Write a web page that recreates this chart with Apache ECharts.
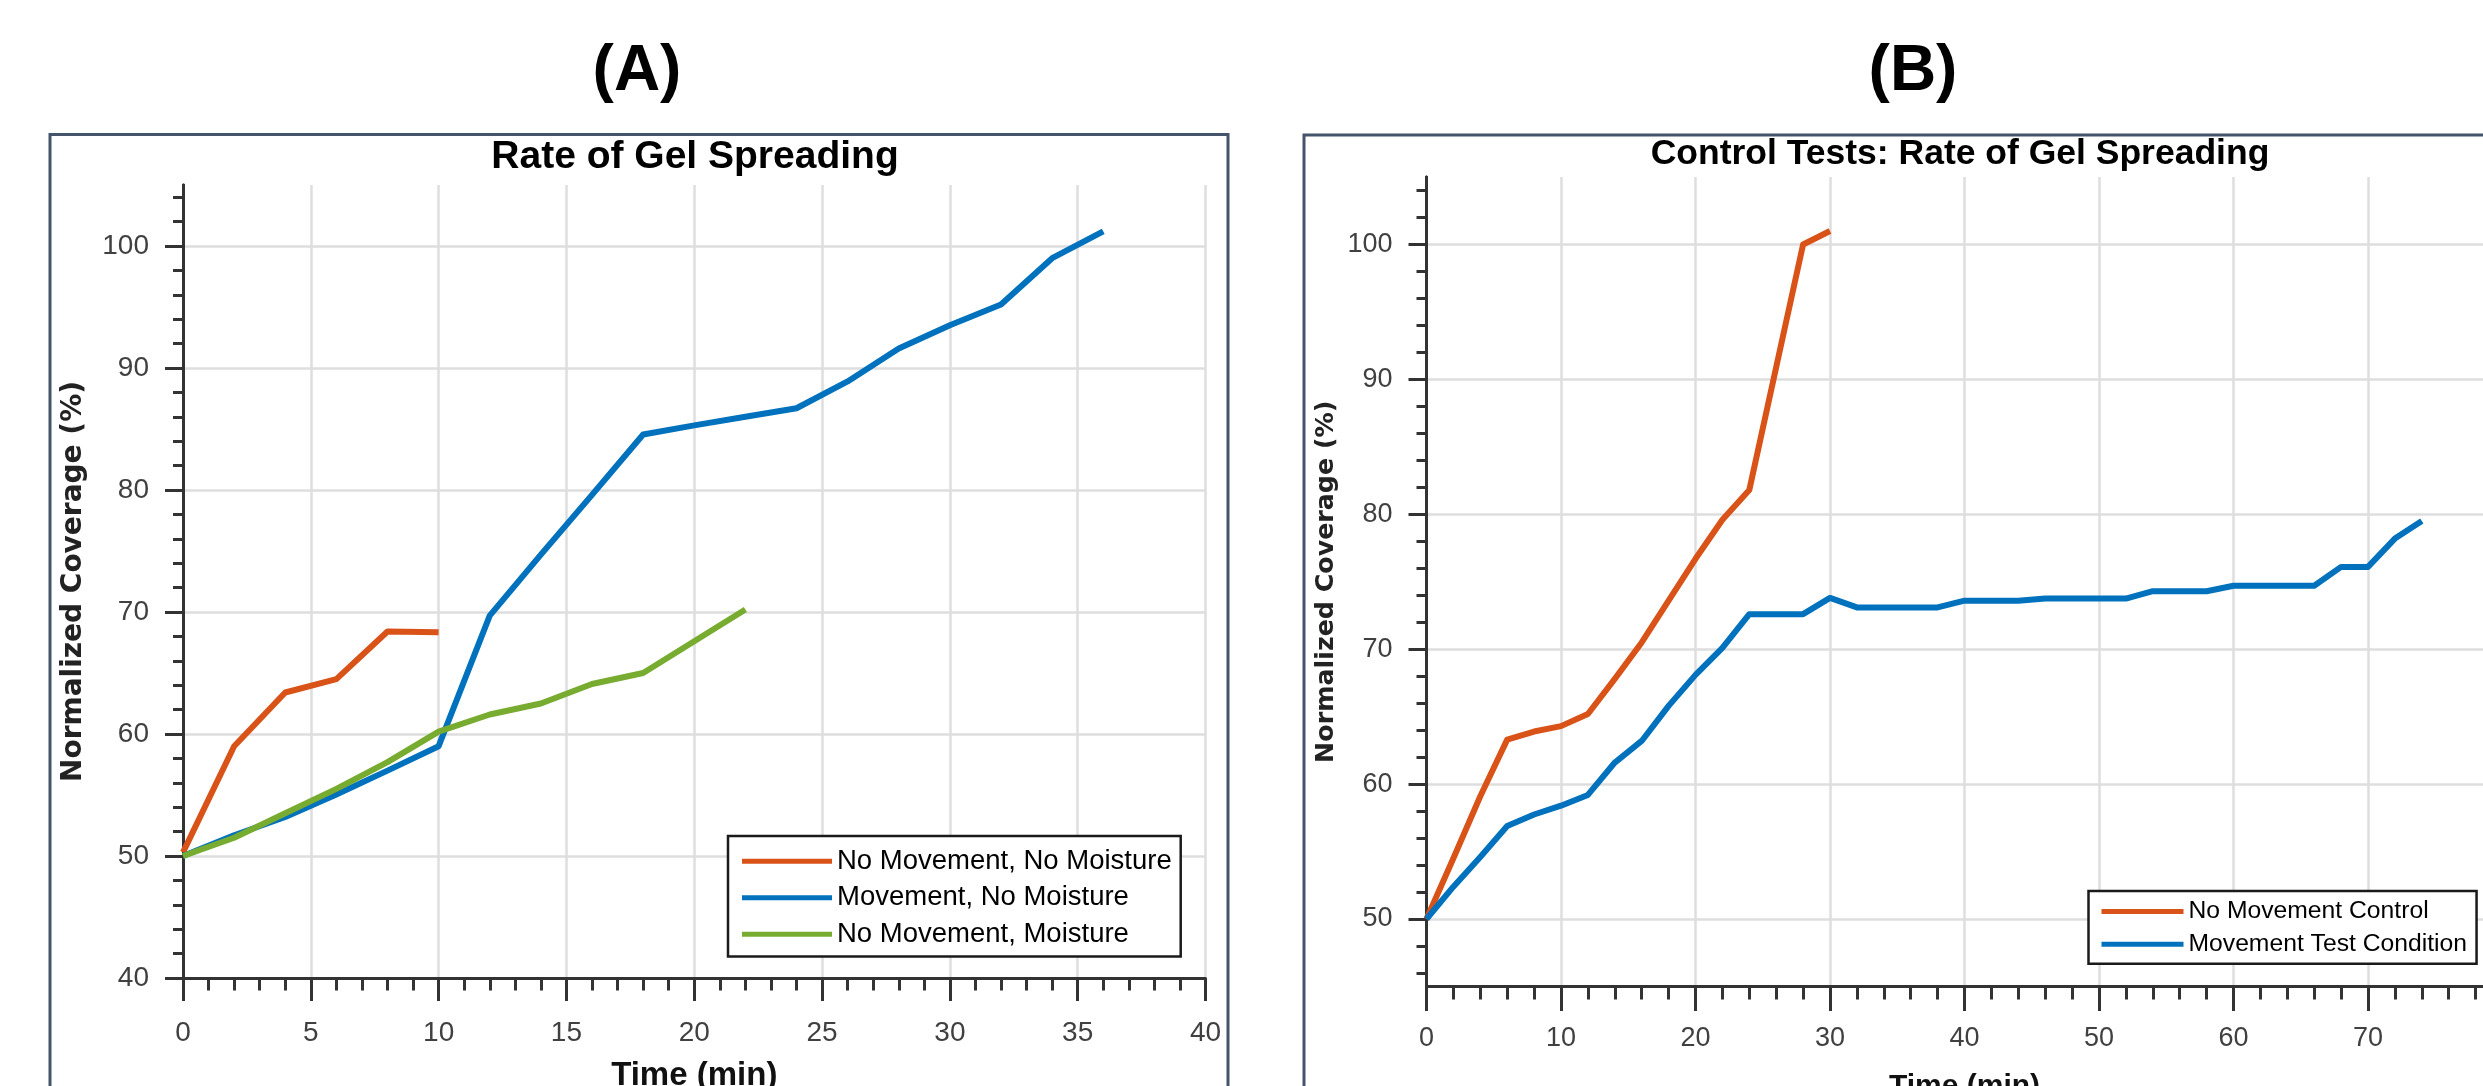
<!DOCTYPE html>
<html>
<head>
<meta charset="utf-8">
<title>Rate of Gel Spreading</title>
<script src="https://cdn.jsdelivr.net/npm/echarts@6/dist/echarts.min.js"></script>
<style>
  html, body { margin: 0; padding: 0; background: #fff; }
  #chart { width: 2483px; height: 1086px; }
</style>
</head>
<body>
<div id="chart"></div>
<script>
// ---- panel A data (time in min, normalized coverage in %)
const timeA_noMoveNoMoist = [0, 2, 4, 6, 8, 10]
const covA_noMoveNoMoist = [50.3, 59.0, 63.4, 64.5, 68.4, 68.35]

const timeA_moveNoMoist = [0, 2, 4, 6, 8, 10, 12, 14, 16, 18, 20, 22, 24, 26, 28, 30, 32, 34, 36]
const covA_moveNoMoist = [50.0, 51.7, 53.2, 55.05, 57.0, 59.0, 69.7, 74.7, 79.6, 84.55, 85.3, 86.0, 86.7, 88.9, 91.6, 93.5, 95.2, 99.0, 101.2]

const timeA_noMoveMoist = [0, 2, 4, 6, 8, 10, 12, 14, 16, 18, 20, 22]
const covA_noMoveMoist = [50.0, 51.5, 53.5, 55.5, 57.7, 60.2, 61.6, 62.5, 64.1, 65.0, 67.6, 70.2]

// ---- panel B data
const timeB_control = [0, 2, 4, 6, 8, 10, 12, 14, 16, 18, 20, 22, 24, 26, 28, 30]
const covB_control = [50.0, 54.5, 59.1, 63.3, 63.9, 64.3, 65.2, 67.8, 70.5, 73.6, 76.7, 79.6, 81.8, 90.9, 100.0, 101.0]

const timeB_test = [0, 2, 4, 6, 8, 10, 12, 14, 16, 18, 20, 22, 24, 26, 28, 30, 32, 34, 36, 38,
  40, 42, 44, 46, 48, 50, 52, 54, 56, 58, 60, 62, 64, 66, 68, 70, 72, 74]
const covB_test = [50.0, 52.4, 54.6, 56.9, 57.75, 58.4, 59.2, 61.6, 63.2, 65.8, 68.1, 70.1, 72.6, 72.6, 72.6, 73.8, 73.1, 73.1, 73.1, 73.1,
  73.6, 73.6, 73.6, 73.75, 73.75, 73.75, 73.75, 74.3, 74.3, 74.3, 74.7, 74.7, 74.7, 74.7, 76.1, 76.1, 78.2, 79.5]

// ---- tick values
const yTicksA = [40, 50, 60, 70, 80, 90, 100]
const yMinorA = [42, 44, 46, 48, 52, 54, 56, 58, 62, 64, 66, 68, 72, 74, 76, 78, 82, 84, 86, 88, 92, 94, 96, 98, 102, 104]
const yTicksB = [50, 60, 70, 80, 90, 100]
const yMinorB = [46, 48, 52, 54, 56, 58, 62, 64, 66, 68, 72, 74, 76, 78, 82, 84, 86, 88, 92, 94, 96, 98, 102, 104]

const namesA = ['No Movement, No Moisture', 'Movement, No Moisture', 'No Movement, Moisture']
const namesB = ['No Movement Control', 'Movement Test Condition']

const ORANGE = '#D95319'
const BLUE = '#0072BD'
const GREEN = '#77AC30'
const AXIS = '#333333'
const GRIDC = '#dedede'
const LABELC = '#404040'
const FONT = '"Liberation Sans", Arial, sans-serif'
const WIDE = '"DejaVu Sans", Verdana, sans-serif'

function pairs(xs, ys) {
  return xs.map((x, i) => [x, ys[i]])
}

function xAxisOf(gridIndex, max, interval, o) {
  return {
    gridIndex: gridIndex,
    type: 'value',
    min: 0,
    max: max,
    interval: interval,
    axisLine: { show: true, onZero: false, lineStyle: { color: AXIS, width: 3 } },
    axisTick: { show: true, length: o.tick, lineStyle: { color: AXIS, width: 3 } },
    minorTick: { show: true, splitNumber: 5, length: o.minor, lineStyle: { color: AXIS, width: 3 } },
    axisLabel: { fontSize: o.fs, color: LABELC, margin: o.margin, fontFamily: FONT },
    splitLine: { show: true, lineStyle: { color: GRIDC, width: 2.5 } },
    name: 'Time (min)',
    nameLocation: 'middle',
    nameGap: o.nameGap,
    nameTextStyle: { fontSize: o.nameFs, fontWeight: 'bold', color: '#111', fontFamily: FONT }
  }
}

function yAxisOf(gridIndex, min, ticks, o) {
  return {
    gridIndex: gridIndex,
    type: 'value',
    position: 'left',
    min: min,
    max: 105,
    axisLine: { show: true, onZero: false, lineStyle: { color: AXIS, width: 3 } },
    axisTick: { show: true, length: 18, customValues: ticks, lineStyle: { color: AXIS, width: 3 } },
    axisLabel: { customValues: ticks, fontSize: o.fs, color: LABELC, margin: o.margin, fontFamily: FONT },
    splitLine: { show: true, lineStyle: { color: GRIDC, width: 2.5 } },
    name: 'Normalized Coverage (%)',
    nameLocation: 'middle',
    nameRotate: 90,
    nameGap: o.nameGap,
    nameTextStyle: { fontSize: o.nameFs, fontWeight: 'bold', color: '#222', fontFamily: WIDE }
  }
}

// second axis on the same grid, only for the small ticks between the labels
function yMinorOf(gridIndex, min, ticks) {
  return {
    gridIndex: gridIndex,
    type: 'value',
    position: 'left',
    min: min,
    max: 105,
    axisLine: { show: true, onZero: false, lineStyle: { color: AXIS, width: 3 } },
    axisTick: { show: true, length: 10, customValues: ticks, lineStyle: { color: AXIS, width: 3 } },
    axisLabel: { show: false },
    splitLine: { show: false }
  }
}

function lineSeries(name, color, xAxisIndex, yAxisIndex, data) {
  return {
    name: name,
    type: 'line',
    xAxisIndex: xAxisIndex,
    yAxisIndex: yAxisIndex,
    data: data,
    color: color,
    symbol: 'none',
    lineStyle: { width: 6, join: 'round' },
    emphasis: { disabled: true }
  }
}

function text(x, y, str, size) {
  return {
    type: 'text',
    x: x,
    y: y,
    style: {
      text: str,
      fill: '#000',
      align: 'center',
      verticalAlign: 'middle',
      font: 'bold ' + size + 'px ' + FONT
    }
  }
}

const chart = echarts.init(document.getElementById('chart'))

const option = {
  backgroundColor: '#fff',
  animation: false,
  grid: [
    { left: 183, top: 185, width: 1022.5, height: 793, outerBoundsMode: 'none', containLabel: false },
    { left: 1426.5, top: 177, width: 1076, height: 809.5, outerBoundsMode: 'none', containLabel: false }
  ],
  xAxis: [
    xAxisOf(0, 40, 5, { tick: 23, minor: 12.5, fs: 28, margin: 41, nameGap: 81, nameFs: 33 }),
    xAxisOf(1, 80, 10, { tick: 24.5, minor: 13, fs: 27, margin: 38.5, nameGap: 85, nameFs: 30 })
  ],
  yAxis: [
    yAxisOf(0, 40, yTicksA, { fs: 28, margin: 34, nameGap: 95, nameFs: 28 }),
    yMinorOf(0, 40, yMinorA),
    yAxisOf(1, 45, yTicksB, { fs: 27, margin: 34, nameGap: 88, nameFs: 25.3 }),
    yMinorOf(1, 45, yMinorB)
  ],
  legend: [
    {
      data: namesA,
      orient: 'vertical',
      left: 728,
      top: 836,
      padding: [11.25, 9, 8.25, 14],
      itemWidth: 90,
      itemHeight: 5,
      itemGap: 8.5,
      icon: 'rect',
      selectedMode: false,
      backgroundColor: '#fff',
      borderColor: '#1a1a1a',
      borderWidth: 2.5,
      borderRadius: 0,
      textStyle: { fontSize: 27.5, color: '#000', fontFamily: FONT }
    },
    {
      data: namesB,
      orient: 'vertical',
      left: 2088.5,
      top: 891,
      padding: [8, 9.5, 7, 13],
      itemWidth: 82,
      itemHeight: 5,
      itemGap: 7.8,
      icon: 'rect',
      selectedMode: false,
      backgroundColor: '#fff',
      borderColor: '#1a1a1a',
      borderWidth: 2.5,
      borderRadius: 0,
      textStyle: { fontSize: 24.7, color: '#000', fontFamily: FONT }
    }
  ],
  series: [
    lineSeries(namesA[0], ORANGE, 0, 0, pairs(timeA_noMoveNoMoist, covA_noMoveNoMoist)),
    lineSeries(namesA[1], BLUE, 0, 0, pairs(timeA_moveNoMoist, covA_moveNoMoist)),
    lineSeries(namesA[2], GREEN, 0, 0, pairs(timeA_noMoveMoist, covA_noMoveMoist)),
    lineSeries(namesB[0], ORANGE, 1, 2, pairs(timeB_control, covB_control)),
    lineSeries(namesB[1], BLUE, 1, 2, pairs(timeB_test, covB_test))
  ],
  graphic: [
    // panel frames
    { type: 'rect', shape: { x: 50, y: 134.5, width: 1178, height: 1000 }, style: { fill: 'none', stroke: '#44546A', lineWidth: 3 }, z: -1 },
    { type: 'rect', shape: { x: 1304, y: 135, width: 1300, height: 1000 }, style: { fill: 'none', stroke: '#44546A', lineWidth: 3 }, z: -1 },
    text(637, 72, '(A)', 64),
    text(1913, 72, '(B)', 64),
    text(695, 157, 'Rate of Gel Spreading', 39),
    text(1960, 154.5, 'Control Tests: Rate of Gel Spreading', 35.5)
  ]
}

chart.setOption(option)
window.addEventListener('resize', () => chart.resize())
</script>
</body>
</html>
